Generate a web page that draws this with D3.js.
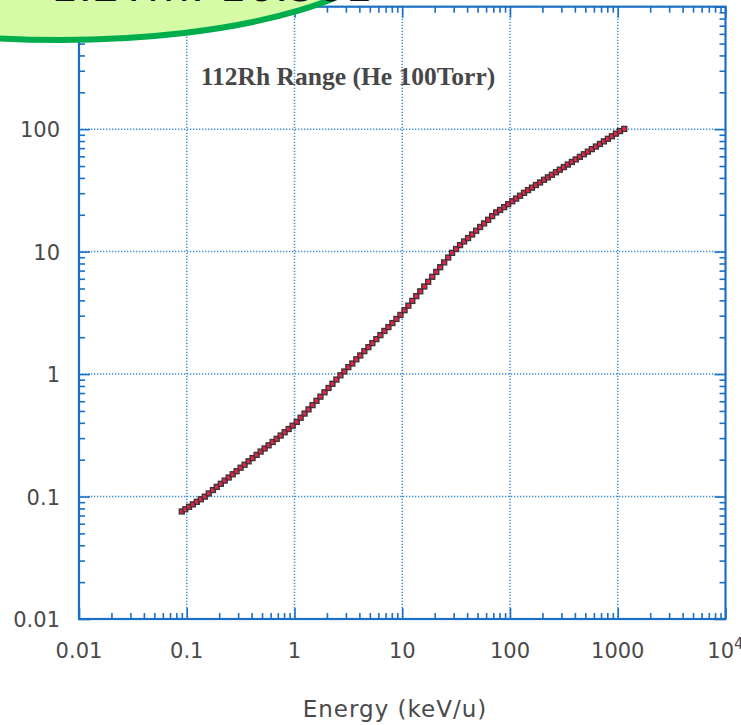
<!DOCTYPE html>
<html><head><meta charset="utf-8">
<script src="https://cdn.jsdelivr.net/npm/d3@7"></script>
<style>
html,body{margin:0;padding:0;background:#fff;overflow:hidden;}
svg{display:block;}
</style></head>
<body>
<svg id="c" width="741" height="725"></svg>
<script>
// ---- data ----
const energy = [0.090,0.097,0.105,0.114,0.124,0.135,0.147,
 0.160,0.175,0.190,0.207,0.225,0.245,0.267,0.290,0.316,0.344,0.375,0.408,0.445,0.485,0.528,0.575,0.627,0.683,0.744,0.810,0.883,0.962,
 1.05,1.14,1.24,1.35,1.47,1.60,1.74,1.90,2.07,2.25,2.45,2.67,
 2.90,3.16,3.44,3.75,4.08,4.45,4.85,5.28,5.75,6.27,6.83,7.44,8.10,8.83,9.62,
 10.5,11.4,12.4,13.5,14.7,16.0,17.4,19.0,20.7,22.5,24.5,26.7,29.0,
 31.6,34.4,37.5,40.8,44.5,48.5,52.8,57.5,62.7,68.3,74.4,
 81.0,88.3,96.2,105,114,124,135,
 147,160,174,190,207,225,245,267,290,316,344,375,408,445,485,528,575,627,683,744,810,883,962,1050,1150];
const range = [0.0755,0.0787,0.0824,0.0863,0.0905,0.0950,0.0998,
 0.106,0.113,0.120,0.127,0.135,0.143,0.152,0.161,0.172,0.182,0.194,0.206,0.219,0.233,0.247,0.262,0.279,0.296,0.315,0.335,0.356,0.379,
 0.407,0.440,0.476,0.515,0.558,0.605,0.654,0.710,0.770,0.833,0.902,0.977,
 1.05,1.14,1.22,1.32,1.42,1.54,1.66,1.79,1.93,2.08,2.25,2.42,2.61,2.82,3.04,
 3.32,3.62,3.96,4.33,4.74,5.19,5.67,6.23,6.83,7.46,8.17,8.95,9.77,
 10.5,11.3,12.1,12.9,13.8,14.8,15.9,17.0,18.2,19.5,20.9,
 21.9,23.1,24.4,25.8,27.1,28.6,30.2,
 31.8,33.3,35.0,36.7,38.6,40.4,42.4,44.5,46.7,49.0,51.4,54.0,56.6,59.4,62.4,65.5,68.7,72.1,75.7,79.5,83.4,87.5,91.9,96.5,100.5];
const xMajor = [0.01,0.1,1,10,100,1000,10000];
const xLabels = ["0.01","0.1","1","10","100","1000","10"];
const yMajor = [0.01,0.1,1,10,100,1000];
const yLabels = ["0.01","0.1","1","10","100",""];
const title = "112Rh Range (He 100Torr)";
const xTitle = "Energy (keV/u)";
const bubbleText = "Bρ = 1.2Tm: 16.501";

// ---- layout ----
const L = 79, R = 725.5, T = 6.7, B = 619;
const svg = d3.select("#c");
const x = d3.scaleLog().domain([0.01, 10000]).range([L, R]);
const y = d3.scaleLog().domain([0.01, 1000]).range([B, T]);

const axisCol = "#1b6fc6", gridCol = "#3a8fd8", lblCol = "#4a4a4a";

// minor tick values
const minorX = x.ticks().filter(v => !xMajor.some(m => Math.abs(m - v) / m < 1e-9));
const minorY = y.ticks().filter(v => !yMajor.some(m => Math.abs(m - v) / m < 1e-9));

// grid
const g = svg.append("g");
g.selectAll(".gx").data(xMajor.slice(1, -1)).join("line")
  .attr("x1", d => x(d)).attr("x2", d => x(d)).attr("y1", T).attr("y2", B)
  .attr("stroke", gridCol).attr("stroke-width", 1.5).attr("stroke-dasharray", "1.3,1.7");
g.selectAll(".gy").data(yMajor.slice(1, -1)).join("line")
  .attr("y1", d => y(d)).attr("y2", d => y(d)).attr("x1", L).attr("x2", R)
  .attr("stroke", gridCol).attr("stroke-width", 1.5).attr("stroke-dasharray", "1.3,1.7");

function styleAxis(sel) {
  sel.select(".domain").remove();
  sel.selectAll("line").attr("stroke", axisCol).attr("stroke-width", 1.6);
}
// axes: major and minor ticks on all four sides, pointing inward
const ax = [
  [d3.axisBottom(x), `translate(0,${B})`, xMajor, minorX],
  [d3.axisTop(x), `translate(0,${T})`, xMajor, minorX],
  [d3.axisLeft(y), `translate(${L},0)`, yMajor, minorY],
  [d3.axisRight(y), `translate(${R},0)`, yMajor, minorY]
];
ax.forEach(([a, tr, maj, min]) => {
  svg.append("g").attr("transform", tr)
    .call(a.tickValues(maj).tickSize(-11).tickFormat("")).call(styleAxis);
  svg.append("g").attr("transform", tr)
    .call(a.tickValues(min).tickSize(-6).tickFormat("")).call(styleAxis);
});
// frame
svg.append("rect").attr("x", L).attr("y", T).attr("width", R - L).attr("height", B - T)
  .attr("fill", "none").attr("stroke", axisCol).attr("stroke-width", 2.2);

// tick labels
const fnt = "'DejaVu Sans', 'Lucida Grande', sans-serif";
svg.append("g").selectAll("text").data(xMajor).join("text")
  .attr("x", d => x(d)).attr("y", 658)
  .attr("text-anchor", "middle").attr("font-family", fnt).attr("font-size", 21)
  .attr("fill", lblCol)
  .each(function(d, i) {
    const t = d3.select(this);
    t.append("tspan").text(xLabels[i]);
    if (d === 10000) t.append("tspan").attr("dy", -9).attr("font-size", 15).text("4");
  });
svg.append("g").selectAll("text").data(yMajor).join("text")
  .attr("x", 60).attr("y", d => y(d) + 8)
  .attr("text-anchor", "end").attr("font-family", fnt).attr("font-size", 21)
  .attr("fill", lblCol).text((d, i) => yLabels[i]);

// axis title
svg.append("text").attr("x", 395).attr("y", 717).attr("text-anchor", "middle")
  .attr("font-family", fnt).attr("font-size", 23).attr("letter-spacing", 1)
  .attr("fill", lblCol).text(xTitle);

// chart title
svg.append("text").attr("x", 348).attr("y", 85).attr("text-anchor", "middle")
  .attr("font-family", "'Liberation Serif', 'Times New Roman', serif").attr("font-weight", "bold")
  .attr("font-size", 25.5).attr("fill", "#474747").text(title);

// data line and markers
const pts = energy.map((e, i) => [e, range[i]]);
svg.append("path").datum(pts)
  .attr("d", d3.line().x(d => x(d[0])).y(d => y(d[1])))
  .attr("fill", "none").attr("stroke", "#e8506a").attr("stroke-width", 2).attr("opacity", 0.8);
svg.append("g").selectAll("rect").data(pts).join("rect")
  .attr("x", d => x(d[0]) - 2.5).attr("y", d => y(d[1]) - 2.5)
  .attr("width", 5).attr("height", 5)
  .attr("fill", "#e3244c").attr("stroke", "#3a3535").attr("stroke-width", 1.3);

// speech bubble (cropped at top-left, as in the reference)
svg.append("ellipse").attr("cx", 60).attr("cy", -60).attr("rx", 337).attr("ry", 100)
  .attr("fill", "#d6fba6").attr("stroke", "#00ad4c").attr("stroke-width", 6);
svg.append("text").attr("x", 150).attr("y", 1).attr("text-anchor", "middle")
  .attr("font-family", "'DejaVu Sans', sans-serif").attr("font-size", 44).attr("fill", "#111")
  .text(bubbleText);
</script>
</body></html>
